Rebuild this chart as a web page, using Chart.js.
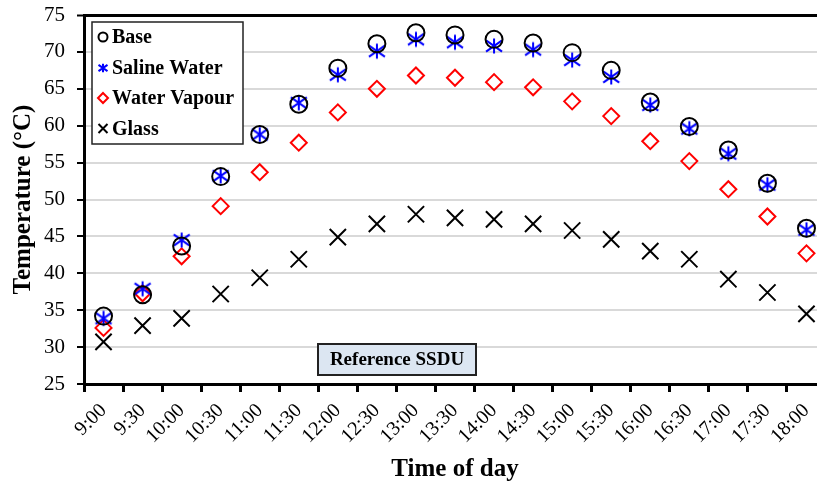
<!DOCTYPE html>
<html>
<head>
<meta charset="utf-8">
<script src="https://cdn.jsdelivr.net/npm/chart.js@4.4.1/dist/chart.umd.min.js"></script>
<style>
html, body { margin: 0; padding: 0; background: #fff; overflow: hidden; }
#wrap { width: 840px; height: 491px; position: relative; }
</style>
</head>
<body>
<div id="wrap"><canvas id="c"></canvas></div>
<script>
const categories = ['9:00','9:30','10:00','10:30','11:00','11:30','12:00','12:30','13:00','13:30','14:00','14:30','15:00','15:30','16:00','16:30','17:00','17:30','18:00'];
const baseTemp = [34.2, 37.1, 43.7, 53.1, 58.8, 62.9, 67.8, 71.1, 72.6, 72.3, 71.7, 71.2, 69.9, 67.5, 63.2, 59.9, 56.7, 52.2, 46.1];
const salineWater = [33.9, 37.9, 44.5, 53.2, 58.8, 63.1, 66.9, 70.1, 71.7, 71.3, 70.8, 70.3, 68.9, 66.6, 62.8, 59.6, 56.2, 52.0, 45.9];
const waterVapour = [32.6, 37.3, 42.3, 49.1, 53.7, 57.7, 61.8, 65.0, 66.8, 66.5, 65.9, 65.2, 63.3, 61.3, 57.9, 55.2, 51.4, 47.7, 42.7];
const glass = [30.7, 32.9, 33.9, 37.2, 39.4, 41.9, 44.9, 46.7, 48.0, 47.5, 47.3, 46.7, 45.8, 44.6, 43.0, 41.9, 39.2, 37.4, 34.5];
const seriesNames = ['Base', 'Saline Water', 'Water Vapour', 'Glass'];
const yTicks = [25, 30, 35, 40, 45, 50, 55, 60, 65, 70, 75];
const annotationText = 'Reference SSDU';

const FONT = "'Liberation Serif', 'Times New Roman', serif";

function drawAsterisk(ctx, x, y, s, color, lw) {
  ctx.save();
  ctx.strokeStyle = color; ctx.lineWidth = lw;
  ctx.beginPath();
  ctx.moveTo(x, y - s * 0.95); ctx.lineTo(x, y + s * 0.95);
  ctx.moveTo(x - s, y - s * 0.7); ctx.lineTo(x + s, y + s * 0.7);
  ctx.moveTo(x - s, y + s * 0.7); ctx.lineTo(x + s, y - s * 0.7);
  ctx.stroke();
  ctx.restore();
}
const astCanvas = document.createElement('canvas');
astCanvas.width = 22; astCanvas.height = 22;
drawAsterisk(astCanvas.getContext('2d'), 11, 11, 8, '#0000ff', 2);

const legendPlugin = {
  id: 'customLegend',
  afterDraw(chart) {
    const ctx = chart.ctx;
    ctx.save();
    const lx = 92, ly = 22, lw = 151, lh = 122;
    ctx.fillStyle = '#fff';
    ctx.fillRect(lx, ly, lw, lh);
    ctx.strokeStyle = '#222'; ctx.lineWidth = 1.5;
    ctx.strokeRect(lx, ly, lw, lh);
    const rows = [37, 68, 98, 128.5];
    const mx = 103, tx = 112;
    ctx.font = "bold 20px " + FONT;
    ctx.fillStyle = '#000';
    ctx.textBaseline = 'middle';
    ctx.textAlign = 'left';
    seriesNames.forEach((name, i) => {
      const y = rows[i];
      ctx.lineWidth = 2;
      if (i === 0) {
        ctx.strokeStyle = '#000';
        ctx.beginPath(); ctx.arc(mx, y, 4.5, 0, Math.PI * 2); ctx.stroke();
      } else if (i === 1) {
        drawAsterisk(ctx, mx, y, 4.5, '#0000ff', 2);
      } else if (i === 2) {
        ctx.strokeStyle = '#ff0000';
        ctx.beginPath();
        ctx.moveTo(mx, y - 5); ctx.lineTo(mx + 5, y); ctx.lineTo(mx, y + 5); ctx.lineTo(mx - 5, y); ctx.closePath();
        ctx.stroke();
      } else {
        ctx.strokeStyle = '#000';
        ctx.beginPath();
        ctx.moveTo(mx - 4.5, y - 4.5); ctx.lineTo(mx + 4.5, y + 4.5);
        ctx.moveTo(mx - 4.5, y + 4.5); ctx.lineTo(mx + 4.5, y - 4.5);
        ctx.stroke();
      }
      ctx.fillStyle = '#000';
      ctx.fillText(name, tx, y + 1);
    });
    const ax = 318, ay = 344, aw = 158, ah = 31;
    ctx.fillStyle = '#dce6f2';
    ctx.fillRect(ax, ay, aw, ah);
    ctx.strokeStyle = '#222'; ctx.lineWidth = 2;
    ctx.strokeRect(ax, ay, aw, ah);
    ctx.fillStyle = '#000';
    ctx.font = "bold 19px " + FONT;
    ctx.textAlign = 'center';
    ctx.fillText(annotationText, ax + aw / 2, ay + ah / 2 + 1);
    ctx.restore();
  }
};

const common = { showLine: false, pointHoverRadius: 0 };
new Chart(document.getElementById('c'), {
  type: 'line',
  data: {
    labels: categories,
    datasets: [
      Object.assign({ label: seriesNames[0], data: baseTemp, pointStyle: 'circle', pointRadius: 8.5, pointBorderColor: '#000', pointBackgroundColor: 'rgba(0,0,0,0)', pointBorderWidth: 2, borderColor: '#000' }, common),
      Object.assign({ label: seriesNames[1], data: salineWater, pointStyle: astCanvas, pointRadius: 9, borderColor: '#0000ff' }, common),
      Object.assign({ label: seriesNames[2], data: waterVapour, pointStyle: 'rectRot', pointRadius: 8, pointBorderColor: '#ff0000', pointBackgroundColor: 'rgba(0,0,0,0)', pointBorderWidth: 2, borderColor: '#ff0000' }, common),
      Object.assign({ label: seriesNames[3], data: glass, pointStyle: 'crossRot', pointRadius: 11.5, pointBorderColor: '#000', pointBorderWidth: 2, borderColor: '#000' }, common)
    ]
  },
  options: {
    responsive: true,
    maintainAspectRatio: false,
    animation: false,
    events: [],
    layout: { padding: { top: 15, right: 14, left: 0, bottom: 0 } },
    plugins: { legend: { display: false }, tooltip: { enabled: false } },
    scales: {
      x: {
        type: 'category',
        offset: true,
        afterFit(scale) { scale.height = 107; scale.paddingLeft = 0; scale.paddingRight = 0; },
        grid: { offset: true, drawOnChartArea: false, drawTicks: true, tickLength: 8, tickWidth: 3, tickColor: '#000' },
        border: { color: '#000', width: 3 },
        ticks: { font: { family: FONT, size: 20 }, color: '#000', minRotation: 45, maxRotation: 45, autoSkip: false, padding: 7 },
        title: { display: true, text: 'Time of day', font: { family: FONT, size: 25, weight: 'bold' }, color: '#000', padding: { top: 0, bottom: 6 } }
      },
      y: {
        min: 25, max: 75,
        afterFit(scale) { scale.width = 84; scale.paddingTop = 0; scale.paddingBottom = 0; },
        afterBuildTicks(scale) { scale.ticks = yTicks.map(v => ({ value: v })); },
        grid: {
          color: (c) => (c.tick && c.tick.value === 75) ? '#000' : '#d9d9d9',
          lineWidth: (c) => (c.tick && c.tick.value === 75) ? 3 : 2,
          drawTicks: true, tickLength: 7, tickWidth: 2, tickColor: '#000'
        },
        border: { color: '#000', width: 3 },
        ticks: { font: { family: FONT, size: 21 }, color: '#000', padding: 12 },
        title: { display: true, text: 'Temperature (°C)', font: { family: FONT, size: 25, weight: 'bold' }, color: '#000', padding: { top: 9, bottom: 2 } }
      }
    }
  },
  plugins: [legendPlugin]
});
</script>
</body>
</html>
